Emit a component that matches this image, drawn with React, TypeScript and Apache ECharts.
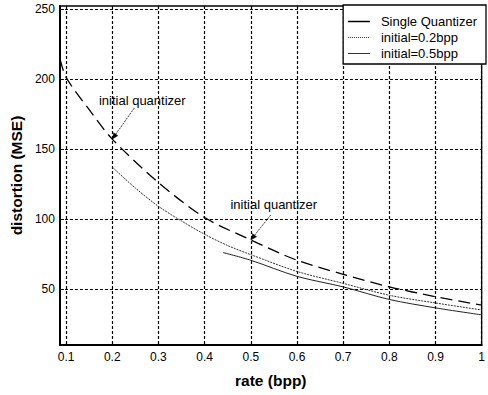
import React, { useEffect, useRef } from "react";
import * as echarts from "echarts";

const xTicks = [0.1, 0.2, 0.3, 0.4, 0.5, 0.6, 0.7, 0.8, 0.9, 1.0];
const yTicks = [50, 100, 150, 200, 250];

const seriesNames = ["Single Quantizer", "initial=0.2bpp", "initial=0.5bpp"];

const singleX = [0.087, 0.1, 0.15, 0.2, 0.3, 0.4, 0.5, 0.6, 0.7, 0.8, 0.9, 1.0];
const singleY = [214, 201, 178, 157, 126, 101, 85, 70.5, 60.5, 51.5, 44.5, 38.5];

const init02X = [0.2, 0.25, 0.3, 0.35, 0.4, 0.45, 0.5, 0.6, 0.7, 0.8, 0.9, 1.0];
const init02Y = [137, 122, 109, 98.5, 89, 81, 74.5, 62.5, 54, 45.5, 40, 35];

const init05X = [0.44, 0.5, 0.6, 0.7, 0.8, 0.9, 1.0];
const init05Y = [76, 70.5, 59, 51.5, 42.5, 36.5, 31.5];

const annotText = "initial quantizer";
// points on the single-quantizer curve the arrows point to
const annotTargets: [number, number][] = [
  [0.2, 157],
  [0.5, 85],
];

const FONT = "'Liberation Sans', Arial, sans-serif";

function zip(xs: number[], ys: number[]) {
  return xs.map((x, i) => [x, ys[i]]);
}

export default function App() {
  const ref = useRef<HTMLDivElement>(null);
  useEffect(() => {
    if (!ref.current) return;
    const chart = echarts.init(ref.current, null, { renderer: "svg" });
    const gridLine = { show: true, lineStyle: { color: "#000", width: 1.2, type: [3, 2] } };
    const option: any = {
      animation: false,
      backgroundColor: "#fff",
      color: ["#000", "#333", "#222"],
      grid: {
        left: 58,
        right: 2,
        top: 6,
        bottom: 50,
        show: true,
        borderColor: "#000",
        borderWidth: 1.3,
        backgroundColor: "transparent",
      },
      xAxis: {
        type: "value",
        min: 0.0866,
        max: 1,
        name: "rate (bpp)",
        nameLocation: "middle",
        nameGap: 27,
        nameTextStyle: { fontFamily: FONT, fontSize: 15.5, fontWeight: "bold", color: "#000" },
        axisLine: { show: true, lineStyle: { color: "#000", width: 2 } },
        axisTick: { show: true, inside: true, length: 4, customValues: xTicks, lineStyle: { color: "#000" } },
        axisLabel: {
          customValues: xTicks,
          margin: 6,
          fontFamily: FONT,
          fontSize: 12,
          color: "#000",
          formatter: (v: number) => (Math.abs(v - 1) < 1e-9 ? "1" : v.toFixed(1)),
        },
        splitLine: gridLine,
      },
      yAxis: {
        type: "value",
        min: 10,
        max: 252,
        name: "distortion (MSE)",
        nameLocation: "middle",
        nameGap: 30,
        nameTextStyle: { fontFamily: FONT, fontSize: 15.5, fontWeight: "bold", color: "#000" },
        axisLine: { show: true, lineStyle: { color: "#000", width: 2 } },
        axisTick: { show: true, inside: true, length: 4, customValues: yTicks, lineStyle: { color: "#000" } },
        axisLabel: { customValues: yTicks, margin: 5, fontFamily: FONT, fontSize: 12, color: "#000" },
        splitLine: gridLine,
      },
      legend: {
        orient: "vertical",
        right: 2,
        top: 5,
        padding: [10, 9, 4, 4],
        itemGap: 3,
        itemWidth: 22,
        itemHeight: 12,
        backgroundColor: "#fff",
        borderColor: "#000",
        borderWidth: 1.3,
        borderRadius: 0,
        itemStyle: { opacity: 0 },
        textStyle: { fontFamily: FONT, fontSize: 13, color: "#000", padding: [0, 0, 0, 6] },
        data: [
          { name: seriesNames[0], lineStyle: { type: "solid", width: 1.5, color: "#000" } },
          { name: seriesNames[1], lineStyle: { type: [1, 1], width: 1, color: "#333" } },
          { name: seriesNames[2], lineStyle: { type: "solid", width: 1, color: "#333" } },
        ],
      },
      series: [
        {
          name: seriesNames[0],
          type: "line",
          data: zip(singleX, singleY),
          symbol: "none",
          smooth: 0.3,
          lineStyle: { color: "#000", width: 1.3, type: [12, 6] },
          z: 3,
        },
        {
          name: seriesNames[1],
          type: "line",
          data: zip(init02X, init02Y),
          symbol: "none",
          smooth: 0.3,
          lineStyle: { color: "#333", width: 1, type: [2, 1] },
          z: 3,
        },
        {
          name: seriesNames[2],
          type: "line",
          data: zip(init05X, init05Y),
          symbol: "none",
          smooth: 0.3,
          lineStyle: { color: "#222", width: 1 },
          z: 3,
        },
      ],
    };
    chart.setOption(option);

    // annotations: text + arrow placed relative to target points on the curve
    const textOffsets: [number, number][] = [
      [30, -39],
      [23, -35],
    ];
    const arrowStartOffsets: [number, number][] = [
      [22, -31],
      [20, -25],
    ];
    const graphics: any[] = [];
    annotTargets.forEach((pt, i) => {
      const p = chart.convertToPixel({ gridIndex: 0 }, pt) as number[];
      const tx = p[0] + textOffsets[i][0];
      const ty = p[1] + textOffsets[i][1];
      const sx = p[0] + arrowStartOffsets[i][0];
      const sy = p[1] + arrowStartOffsets[i][1];
      const ex = p[0];
      const ey = p[1];
      const dx = ex - sx;
      const dy = ey - sy;
      const len = Math.sqrt(dx * dx + dy * dy);
      const ux = dx / len;
      const uy = dy / len;
      const hl = 6;
      const hw = 2.5;
      const bx = ex - ux * hl;
      const by = ey - uy * hl;
      graphics.push({
        type: "text",
        x: tx,
        y: ty,
        z: 10,
        style: {
          text: annotText,
          fontFamily: FONT,
          fontSize: 13,
          fill: "#000",
          align: "center",
          verticalAlign: "middle",
        },
      });
      graphics.push({
        type: "line",
        z: 10,
        shape: { x1: sx, y1: sy, x2: bx, y2: by },
        style: { stroke: "#000", lineWidth: 0.8, lineDash: [2, 1] },
      });
      graphics.push({
        type: "polygon",
        z: 10,
        shape: {
          points: [
            [ex, ey],
            [bx - uy * hw, by + ux * hw],
            [bx + uy * hw, by - ux * hw],
          ],
        },
        style: { fill: "#000", stroke: "#000", lineWidth: 0.5 },
      });
    });
    chart.setOption({ graphic: graphics });

    return () => chart.dispose();
  }, []);
  return (
    <div
      ref={ref}
      style={{ position: "fixed", left: 0, top: 0, width: 488, height: 395, background: "#fff" }}
    />
  );
}
